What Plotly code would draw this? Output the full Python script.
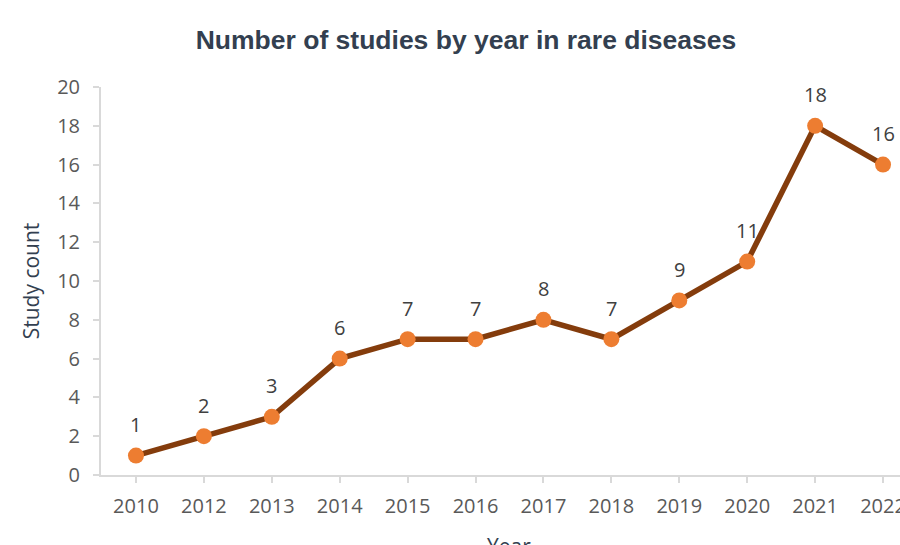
import plotly.graph_objects as go

# Study counts per year
years = ["2010", "2012", "2013", "2014", "2015", "2016", "2017", "2018", "2019", "2020", "2021", "2022"]
counts = [1, 2, 3, 6, 7, 7, 8, 7, 9, 11, 18, 16]
y_ticks = list(range(0, 21, 2))

TICK_FONT = "Open Sans"
LABEL_COLOR = "#595959"
TITLE_COLOR = "#333F50"
AXIS_COLOR = "#D9D9D9"

fig = go.Figure()
fig.add_trace(go.Scatter(
    x=years,
    y=counts,
    mode="lines+markers",
    line=dict(color="#843C0C", width=5.5),
    marker=dict(color="#ED7D31", size=16),
    cliponaxis=False,
    showlegend=False,
))

# value labels above each point (positioned by category index)
for i, c in enumerate(counts):
    fig.add_annotation(
        x=i, y=c, xref="x", yref="y", text=str(c), showarrow=False,
        yshift=31, font=dict(family=TICK_FONT, size=20, color="#404040"),
    )

# x-axis title, centred under the full category band
fig.add_annotation(
    xref="paper", yref="paper",
    x=(509 - 101) / (900 - 101), y=-(546 - 475) / 388,
    yanchor="middle", text="Year", showarrow=False,
    font=dict(family=TICK_FONT, size=21, color=TITLE_COLOR),
)

fig.update_layout(
    width=900, height=545,
    margin=dict(l=101, r=0, t=87, b=70, autoexpand=False),
    paper_bgcolor="white", plot_bgcolor="white",
    title=dict(
        text="<b>Number of studies by year in rare diseases</b>",
        x=466 / 900, xanchor="center", y=1 - 40 / 545, yanchor="middle",
        font=dict(family="Liberation Sans, Arial", size=26.5, color=TITLE_COLOR),
    ),
    xaxis=dict(
        type="category", categoryorder="array", categoryarray=years,
        range=[-0.515, 11.25], automargin=False,
        showline=True, linecolor=AXIS_COLOR, linewidth=2,
        ticks="outside", ticklen=6, tickcolor=AXIS_COLOR, tickwidth=2,
        showgrid=False, zeroline=False,
        tickfont=dict(family=TICK_FONT, size=20, color=LABEL_COLOR),
        ticklabelstandoff=6,
    ),
    yaxis=dict(
        range=[0, 20], tickvals=y_ticks, automargin=False,
        showline=True, linecolor=AXIS_COLOR, linewidth=2,
        ticks="outside", ticklen=6, tickcolor=AXIS_COLOR, tickwidth=2,
        showgrid=False, zeroline=False,
        tickfont=dict(family=TICK_FONT, size=20, color=LABEL_COLOR),
        ticklabelstandoff=9,
        title=dict(text="Study count", standoff=12,
                   font=dict(family=TICK_FONT, size=21, color=TITLE_COLOR)),
    ),
)

fig.write_html("out.html")
